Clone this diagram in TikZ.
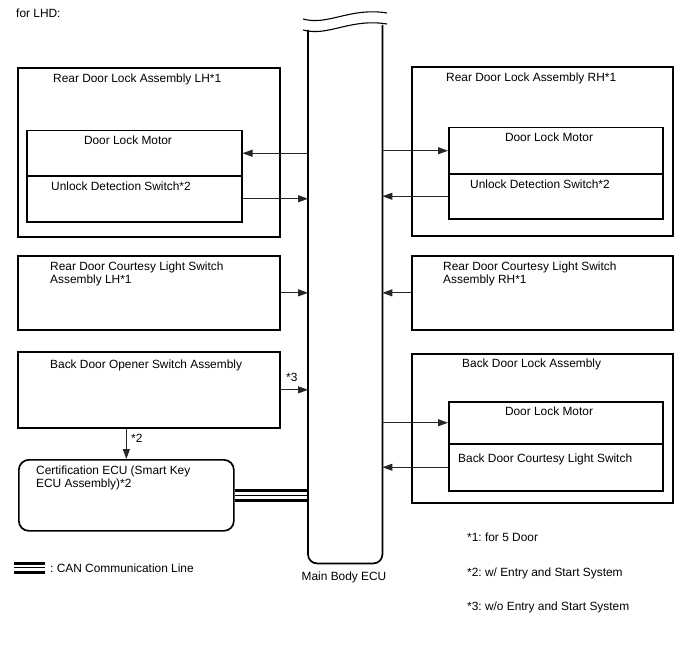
\documentclass[tikz,border=0pt]{standalone}
\usepackage{fontspec}
\setmainfont{Liberation Sans}
\usetikzlibrary{arrows.meta}
\frenchspacing

\tikzset{
  box/.style={draw, line width=1.7pt, inner sep=0pt, anchor=north west},
  part/.style={draw, line width=1.5pt, inner sep=0pt, anchor=north west},
  txt/.style={inner sep=0pt, anchor=base west, font=\fontsize{11.9}{13.6}\selectfont},
  sig/.style={line width=1pt, draw=black!85, -{Triangle[length=10pt,width=7pt]}},
  canthick/.style={line width=3pt},
  canthin/.style={line width=1.4pt},
}

\begin{document}
\begin{tikzpicture}[x=1pt, y=-1pt]
    \useasboundingbox (0,0) rectangle (688,658);

    \node[txt] (lhd) at (16,18) {for LHD:};

    % Main body ECU
    \node[inner sep=0pt, anchor=north west, minimum width=74pt, minimum height=533pt] (ecu) at (308,30) {};
    \draw[line width=1.7pt, rounded corners=9pt] (ecu.north west) -- (ecu.south west) -- (ecu.south east) -- ([yshift=5pt]ecu.north east);
    \draw[line width=1.1pt] (303,30) .. controls (328,37) and (350,18) .. (387,24);
    \draw[line width=1.1pt] (303,19) .. controls (328,26) and (350,7) .. (387,13);
    \node[txt, anchor=base] (ecutxt) at (344,580) {Main Body ECU};

    % Left side
    \node[box, minimum width=262pt, minimum height=169pt] (rdlL) at (17,67) {};
    \node[txt] (rdlLtxt) at (53,83) {Rear Door Lock Assembly LH*1};
    \node[part, minimum width=215pt, minimum height=45pt] (dlmL) at (26,130) {};
    \node[part, minimum width=215pt, minimum height=46pt] (udsL) at (26,175) {};
    \node[txt, anchor=base] (dlmLtxt) at (128,145) {Door Lock Motor};
    \node[txt] (udsLtxt) at (51,190) {Unlock Detection Switch*2};

    \node[box, minimum width=262pt, minimum height=74pt] (rdcL) at (17,255) {};
    \node[txt, anchor=north west, align=left] (rdcLtxt) at (50,261.3) {Rear Door Courtesy Light Switch\\Assembly LH*1};

    \node[box, minimum width=262pt, minimum height=76pt] (bdo) at (17,351) {};
    \node[txt] (bdotxt) at (50,368) {Back Door Opener Switch Assembly};
    \node[txt] (n3) at (286,381) {*3};
    \node[txt] (n2) at (131,442) {*2};

    \node[box, minimum width=215pt, minimum height=71pt, rounded corners=10pt] (cert) at (18,459) {};
    \node[txt, anchor=north west, align=left] (certtxt) at (36,465.3) {Certification ECU (Smart Key\\ECU Assembly)*2};

    % Right side
    \node[box, minimum width=261pt, minimum height=169pt] (rdlR) at (411,66) {};
    \node[txt] (rdlRtxt) at (446,82) {Rear Door Lock Assembly RH*1};
    \node[part, minimum width=214pt, minimum height=46pt] (dlmR) at (448,127) {};
    \node[part, minimum width=214pt, minimum height=45pt] (udsR) at (448,173) {};
    \node[txt, anchor=base] (dlmRtxt) at (549,142) {Door Lock Motor};
    \node[txt] (udsRtxt) at (470,188) {Unlock Detection Switch*2};

    \node[box, minimum width=261pt, minimum height=74pt] (rdcR) at (411,255) {};
    \node[txt, anchor=north west, align=left] (rdcRtxt) at (443,261.3) {Rear Door Courtesy Light Switch\\Assembly RH*1};

    \node[box, minimum width=261pt, minimum height=149pt] (bdl) at (411,353) {};
    \node[txt] (bdltxt) at (462,367) {Back Door Lock Assembly};
    \node[part, minimum width=214pt, minimum height=42pt] (bdm) at (448,401) {};
    \node[part, minimum width=214pt, minimum height=47pt] (bdc) at (448,443) {};
    \node[txt, anchor=base] (bdmtxt) at (549,415) {Door Lock Motor};
    \node[txt] (bdctxt) at (458,462) {Back Door Courtesy Light Switch};

    % Signal lines
    \draw[sig] (ecu.west |- dlmL.east) -- (dlmL.east);
    \draw[sig] (udsL.east) -- (ecu.west |- udsL.east);
    \draw[sig] (rdcL.east) -- (ecu.west |- rdcL.east);
    \draw[sig] (bdo.east) -- (ecu.west |- bdo.east);
    \draw[sig] (bdo.south -| cert.north) -- (cert.north);
    \draw[sig] (ecu.east |- dlmR.west) -- (dlmR.west);
    \draw[sig] (udsR.west) -- (ecu.east |- udsR.west);
    \draw[sig] (rdcR.west) -- (ecu.east |- rdcR.west);
    \draw[sig] (ecu.east |- bdm.west) -- (bdm.west);
    \draw[sig] (bdc.west) -- (ecu.east |- bdc.west);

    % CAN line
    \draw[canthick] ([yshift=5.2pt]cert.east) -- ([yshift=5.2pt]ecu.west |- cert.east);
    \draw[canthin] (cert.east) -- (ecu.west |- cert.east);
    \draw[canthick] ([yshift=-5.2pt]cert.east) -- ([yshift=-5.2pt]ecu.west |- cert.east);

    % Legend
    \coordinate (lgA) at (14,567.5);
    \coordinate (lgB) at (45,567.5);
    \draw[canthick] ([yshift=4.5pt]lgA) -- ([yshift=4.5pt]lgB);
    \draw[canthin] (lgA) -- (lgB);
    \draw[canthick] ([yshift=-4.5pt]lgA) -- ([yshift=-4.5pt]lgB);
    \node[txt] (lgtxt) at (50,572) {: CAN Communication Line};

    % Notes
    \node[txt] (note1) at (467,541) {*1: for 5 Door};
    \node[txt] (note2) at (467,576) {*2: w/ Entry and Start System};
    \node[txt] (note3) at (467,610) {*3: w/o Entry and Start System};
\end{tikzpicture}
\end{document}
